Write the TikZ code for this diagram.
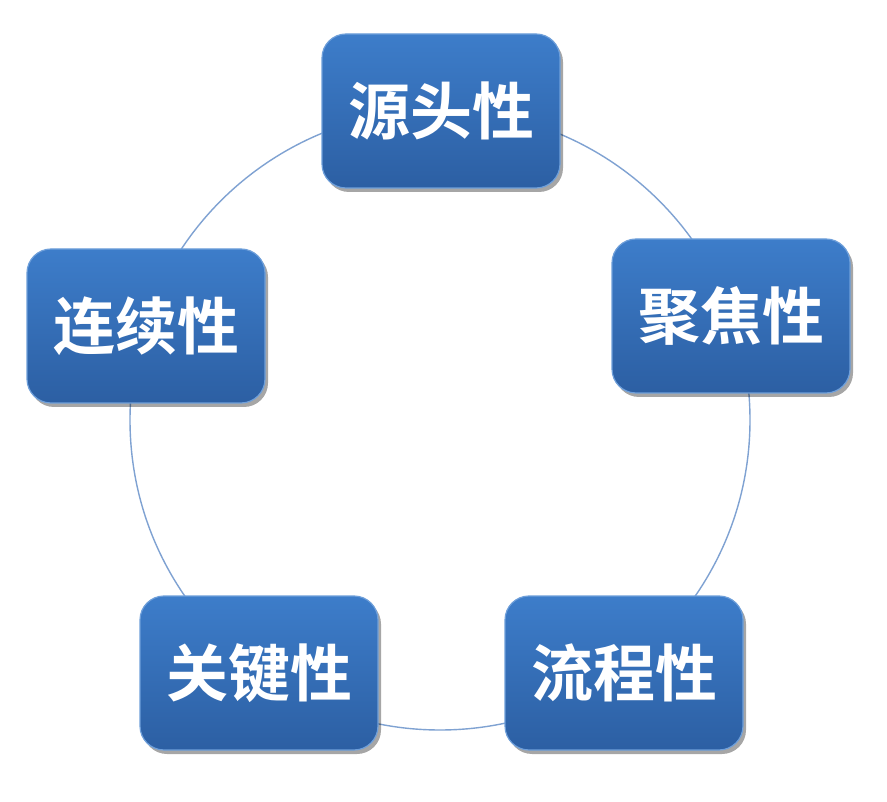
\documentclass[tikz,border=0pt]{standalone}
\usepackage{fontspec}
\newfontfamily\cjk{Noto Sans CJK SC}[BoldFont={* Bold}]
\usetikzlibrary{shadows}
\definecolor{boxtop}{HTML}{3D7DCA}
\definecolor{boxbot}{HTML}{2C5FA3}
\definecolor{boxedge}{HTML}{6E9FDA}
\definecolor{ringcol}{HTML}{7FA2D2}
\tikzset{
  pbox/.style={rounded corners=24pt, minimum width=238pt, minimum height=154pt,
    top color=boxtop, bottom color=boxbot, draw=boxedge, line width=1.2pt,
    drop shadow={shadow xshift=3pt, shadow yshift=-4pt, fill=black, opacity=0.35},
    text=white, font=\cjk\bfseries\fontsize{62pt}{66pt}\selectfont, inner sep=0pt},
  ring/.style={draw=ringcol, line width=1.4pt}
}
\begin{document}
\begin{tikzpicture}[x=1pt,y=-1pt]
\useasboundingbox (0,0) rectangle (887,802);
\fill[white] (0,0) rectangle (887,802);
\coordinate (c) at (440,420);
\draw[ring] (c) circle[radius=310pt];
\node[pbox] (src) at (441,111) {源头性};
\node[pbox] (foc) at (731,316) {聚焦性};
\node[pbox] (con) at (146,326) {连续性};
\node[pbox] (key) at (259,673) {关键性};
\node[pbox] (flow) at (624,673) {流程性};
\end{tikzpicture}
\end{document}
